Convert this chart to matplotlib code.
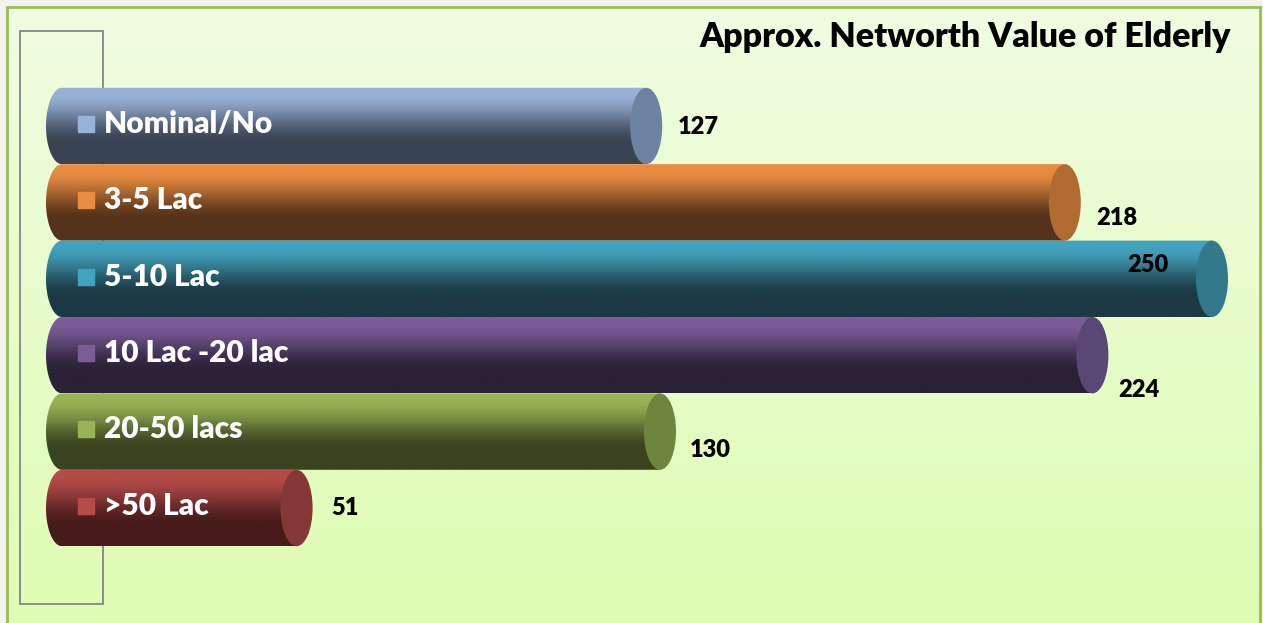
import matplotlib.pyplot as plt
import numpy as np
from matplotlib.patches import Ellipse, Polygon, Rectangle
from matplotlib.colors import to_rgb

plt.rcParams['font.family'] = ['Lato', 'DejaVu Sans']

# data
categories = ['Nominal/No', '3-5 Lac', '5-10 Lac', '10 Lac -20 lac', '20-50 lacs', '>50 Lac']
values = [127, 218, 250, 224, 130, 51]
title = 'Approx. Networth Value of Elderly'

# styles: light top, dark bottom, end cap
top_colors = ['#98b2d8', '#e88c40', '#43a2bd', '#7b5c98', '#98b456', '#b44c4a']
dark_colors = ['#394354', '#55321a', '#1c3944', '#2a2136', '#394320', '#471b1b']
cap_colors = ['#6e82a2', '#b06a32', '#33798b', '#5a4775', '#6e853e', '#853838']
# value label offsets from the cap centre, in pixels
label_dx = [52, 52, -64, 46, 50, 48]
label_dy = [-1, -16, 14, -35, -18, 0]

fig = plt.figure(figsize=(12.63, 6.23), dpi=100)
fig.patch.set_facecolor('#f2f2ee')
ax = fig.add_axes([0, 0, 1, 1])
ax.axis('off')

# background panel with vertical gradient
bg_top = np.array(to_rgb('#f0fde2'))
bg_bot = np.array(to_rgb('#dffcb2'))
tt = np.linspace(0, 1, 256)[:, None, None]
bg = bg_top * (1 - tt) + bg_bot * tt
ax.imshow(bg, extent=[0.0055, 0.9976, -0.02, 0.9888], transform=ax.transAxes,
          aspect='auto', zorder=0)
ax.add_patch(Rectangle((0.0055, -0.02), 0.9921, 1.0088, transform=ax.transAxes,
                       fill=False, edgecolor='#9bbb59', lw=2.0, zorder=1))
# legend box behind the bars
ax.add_patch(Rectangle((0.0158, 0.0305), 0.0658, 0.9195, transform=ax.transAxes,
                       fill=False, edgecolor='#8c8c8c', lw=1.4, zorder=1))

a = 16 / 4.6   # half width of the end ellipse in data units
b = 0.5
t = np.linspace(0, 1, 128)
f = np.clip((t - 0.06) / 0.68, 0, 1)
f = f * f * (3 - 2 * f)

for i, (cat, v) in enumerate(zip(categories, values)):
    c_top = np.array(to_rgb(top_colors[i]))
    c_dark = np.array(to_rgb(dark_colors[i]))
    grad = c_top[None, :] * (1 - f[:, None]) + c_dark[None, :] * f[:, None]
    grad = np.repeat(grad[:, None, :], 2, axis=1)

    ang = np.linspace(np.pi / 2, 3 * np.pi / 2, 60)
    pts = [(a * np.cos(p), i + b * np.sin(p)) for p in ang]
    pts += [(v, i - b), (v, i + b)]
    body = Polygon(pts, closed=True, facecolor='none', edgecolor='none')
    ax.add_patch(body)
    im = ax.imshow(grad, extent=[-a, v + a, i + b, i - b], origin='upper',
                   aspect='auto', zorder=2)
    im.set_clip_path(body)

    ax.add_patch(Ellipse((v, i), 2 * a, 2 * b, facecolor=cap_colors[i],
                         edgecolor='none', zorder=3))

    ax.plot(5.2, i - 0.03, marker='s', markersize=12, color=top_colors[i],
            linestyle='none', zorder=4)
    ax.text(9.1, i - 0.03, cat, color='white', fontsize=21.5, fontweight='heavy',
            ha='left', va='center', zorder=4)

    ax.annotate(str(v), xy=(v, i), xytext=(label_dx[i], label_dy[i]),
                textcoords='offset pixels', ha='center', va='center',
                fontsize=17, fontweight='heavy', color='black', zorder=5)

ax.text(0.9747, 0.9406, title, transform=ax.transAxes, ha='right', va='center',
        fontsize=24.5, fontweight='heavy', color='black', zorder=5)

ax.set_xlim(-62 / 4.6, (1263 - 62) / 4.6)
ax.set_ylim((623 - 126) / 76.4, -126 / 76.4)

plt.savefig('out.png', dpi=100, facecolor=fig.get_facecolor())
